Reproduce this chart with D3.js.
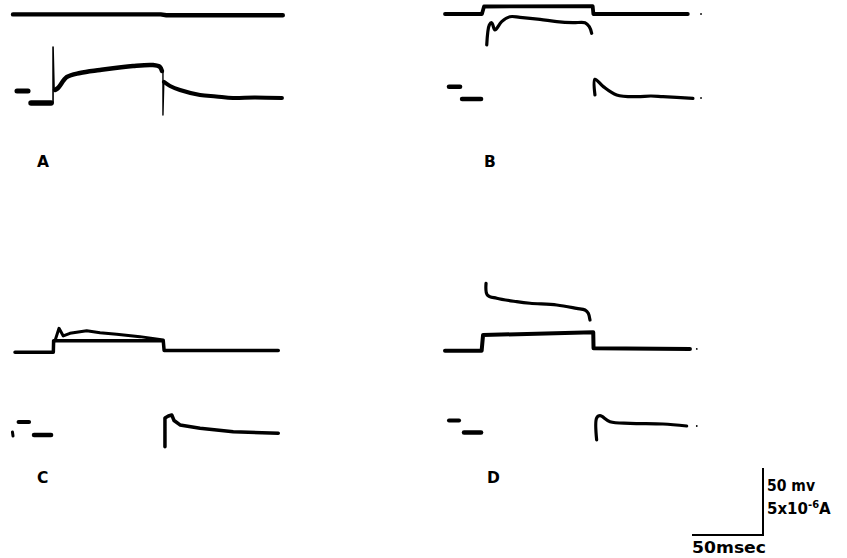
<!DOCTYPE html>
<html><head><meta charset="utf-8">
<script src="https://cdn.jsdelivr.net/npm/d3@7"></script>
<style>body{margin:0;background:#fff}svg{display:block}</style>
</head><body>
<svg id="c" width="847" height="558"></svg>
<script>
// ---- data: time in ms, potential in mV (current traces expressed on the same 50 mV = 5e-6 A scale)
const panelLabels = ["A", "B", "C", "D"];

// Panel A
const aTop = [[0,78.8],[104,78.8],[108,78.2],[190,78.2]];
const aPre1 = [[2.8,21.6],[10.6,21.6]];
const aPre2 = [[12.7,12.7],[26.8,12.7]];
const aOnSpike = [[28.2,12.7],[28.2,54.5],[28.9,23.9]];
const aResp = [[29.6,22.4],[31.7,23.9],[38,32.1],[47.2,35.1],[61.3,37.3],[84.5,40.3],[98.6,41],[103.5,39.6],[104.9,36.6]];
const aOffSpike = [[105.6,35.8],[105.6,3.7],[106.2,28.4]];
const aTail = [[106.3,28.4],[110.6,25.4],[117.6,22.4],[131.7,18.7],[143,17.6],[154.9,16.4],[170,16.8],[189.4,16.4]];

// Panel B
const bTop = [[0,79.1],[26,79.1],[27.5,84.7],[104,85],[104.5,79.1],[171,79.1]];
const bResp = [[29.4,56],[31.2,70.9],[32.9,72.6],[35.2,67.2],[39.9,73.4],[45.8,77.1],[52.8,76.6],[66.9,75.1],[78.7,73.4],[90.1,72.6],[98.6,72.6],[101.6,69.6],[103.3,64.7]];
const bPre1 = [[2.8,24.9],[10.6,24.9]];
const bPre2 = [[12,15.7],[25.4,15.7]];
const bTail = [[105.6,18.7],[105.6,30.4],[111.5,24.9],[120.9,18.7],[135,17.4],[145,17.9],[153.5,17.4],[174.6,16.2]];
const bDots = [[180.3,79.1],[180.3,16.4]];

// Panel C
const cTop = [[0,72.9],[27,72.9],[27.2,81.6],[104.4,81.6],[105,74.3],[185.4,74.3]];
const cResp = [[28.2,81.6],[31,90.8],[34,85.1],[38.7,87.1],[50.5,89],[59.9,87.5],[71.6,86.3],[88,84.6],[104.4,82.1]];
const cPre1 = [[2.5,20.9],[9.9,20.9]];
const cPreDot = [[-1.8,13.4],[-1.4,10.4]];
const cPre2 = [[13.4,11.2],[25.4,11.2]];
const cTail = [[105.6,2.5],[105.6,23.9],[108,25.4],[110.4,26.1],[112,22],[116.2,18.7],[130.3,16.2],[153.7,13.7],[185.4,12.5]];

// Panel D
const dResp = [[28.9,124.4],[29.8,115.7],[36.4,113.2],[50.5,110.7],[59.9,109.5],[78.7,108.2],[92.7,105.7],[98.6,104.5],[100.9,102],[102.1,97]];
const dTop = [[0,74.1],[25.8,74.1],[26.8,85.8],[104.4,87.8],[104.6,75.9],[172.5,75.4]];
const dPre1 = [[2.8,22],[9.9,22]];
const dPre2 = [[13.4,13.1],[25.4,13.1]];
const dTail = [[106.8,7.5],[106.8,23.9],[109.2,25.6],[116.2,21.1],[130.3,19.9],[153.5,19.4],[170.2,17.9]];
const dDots = [[177.3,75.4],[177.3,17.9]];

// calibration
const calTime = 50;   // msec
const calVolt = 50;   // mV  (= 5x10^-6 A)

// ---- layout
const PX_MS = 71/50, PX_MV = 67/50;
const svg = d3.select("#c");

function panel(left, base) {
  const x = d3.scaleLinear().domain([0, 50]).range([left, left + 50*PX_MS]);
  const y = d3.scaleLinear().domain([0, 50]).range([base, base - 50*PX_MV]);
  return {x, y};
}
const lineLin = (p) => d3.line().x(d => p.x(d[0])).y(d => p.y(d[1]));
const lineCurve = (p) => d3.line().x(d => p.x(d[0])).y(d => p.y(d[1])).curve(d3.curveCatmullRom.alpha(0.5));

function draw(p, data, w, curved) {
  svg.append("path").datum(data)
    .attr("d", (curved ? lineCurve(p) : lineLin(p))(data))
    .attr("fill", "none").attr("stroke", "#000").attr("stroke-width", w)
    .attr("stroke-linecap", "round").attr("stroke-linejoin", "round");
}
function dots(p, data) {
  svg.selectAll(null).data(data).enter().append("circle")
    .attr("cx", d => p.x(d[0])).attr("cy", d => p.y(d[1])).attr("r", 0.9).attr("fill", "#000");
}

const pA = panel(13, 120), pB = panel(445, 120), pC = panel(15, 450), pD = panel(445, 450);

// A
draw(pA, aTop, 4.4, false);
draw(pA, aPre1, 5, false);
draw(pA, aPre2, 5.5, false);
draw(pA, aOnSpike, 1.6, false);
draw(pA, aResp, 4.5, true);
draw(pA, aOffSpike, 1.4, false);
draw(pA, aTail, 4, true);

// B
draw(pB, bTop, 3.8, false);
draw(pB, bResp, 3.2, true);
draw(pB, bPre1, 4.5, false);
draw(pB, bPre2, 4.5, false);
draw(pB, bTail, 3.2, true);
dots(pB, bDots);

// C
draw(pC, cTop, 3.5, false);
draw(pC, cResp, 3, false);
draw(pC, cPre1, 4, false);
draw(pC, cPreDot, 3, false);
draw(pC, cPre2, 4.5, false);
draw(pC, cTail, 3.5, false);

// D
draw(pD, dResp, 3.2, true);
draw(pD, dTop, 4, false);
draw(pD, dPre1, 4, false);
draw(pD, dPre2, 4.5, false);
draw(pD, dTail, 3.2, true);
dots(pD, dDots);

// panel labels
const labelPos = [[37,167],[484,167],[37,483],[487,483]];
svg.selectAll(null).data(panelLabels).enter().append("text")
  .attr("x", (d,i) => labelPos[i][0]).attr("y", (d,i) => labelPos[i][1])
  .attr("font-family", "DejaVu Sans").attr("font-weight", "bold").attr("font-size", 15.5)
  .text(d => d);

// calibration bars
const cx = d3.scaleLinear().domain([0, calTime]).range([692, 692 + calTime*PX_MS]);
const cy = d3.scaleLinear().domain([0, calVolt]).range([535, 535 - calVolt*PX_MV]);
svg.append("path")
  .attr("d", `M${cx(0)},${cy(0)}H${cx(calTime)}V${cy(calVolt)}`)
  .attr("fill", "none").attr("stroke", "#000").attr("stroke-width", 2);
const tf = (sel) => sel.attr("font-family", "DejaVu Sans").attr("font-weight", "bold").attr("font-size", 15);
tf(svg.append("text").attr("x", 767).attr("y", 491).attr("textLength", 48).attr("lengthAdjust","spacingAndGlyphs").text("50 mv"));
const t2 = tf(svg.append("text").attr("x", 767).attr("y", 514));
t2.append("tspan").text("5x10");
t2.append("tspan").attr("dy", -6).attr("font-size", 10).text("-6");
t2.append("tspan").attr("dy", 6).text("A");
tf(svg.append("text").attr("x", 692).attr("y", 553).attr("textLength", 74).attr("lengthAdjust","spacingAndGlyphs").text("50msec"));
</script>
</body></html>
